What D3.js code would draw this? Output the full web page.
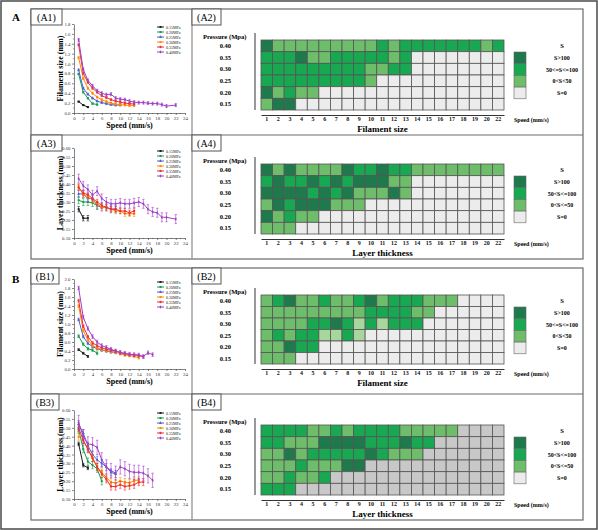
<!DOCTYPE html>
<html><head><meta charset="utf-8">
<script src="https://cdn.jsdelivr.net/npm/d3@7"></script>
<style>
body{margin:0;background:#fff}
svg{display:block}
text{font-family:"Liberation Serif","Times New Roman",serif}
</style>
</head><body>
<svg id="c" width="598" height="530"></svg>
<script>
// ---------- shared categories ----------
const pressureLabels = ["0.15MPa","0.20MPa","0.25MPa","0.30MPa","0.35MPa","0.40MPa"];
const seriesColors = ["#1a1a1a","#12a04a","#5060d0","#ff8a00","#ee3030","#a040c8"];
const speeds = [1,2,3,4,5,6,7,8,9,10,11,12,13,14,15,16,17,18,19,20,22];
const speedTickLabels = ["1","2","3","4","5","6","7","8","9","10","11","12","13","14","15","16","17","18","19","20","22"];
const xTicks = [0,2,4,6,8,10,12,14,16,18,20,22,24];
const heatRows = ["0.40","0.35","0.30","0.25","0.20","0.15"];
const legendA = ["S>100","50<=S<=100","0<S<50","S=0"];
const legendB = ["S>100","50<S<=100","0<S<=50","S=0"];

// ---------- A1: filament size vs speed (series 0.15 .. 0.40 MPa) ----------
const a1Values = [
  [0.23,0.16,0.12],
  [0.79,0.42,0.30,0.19,0.17],
  [0.87,0.50,0.38,0.30,0.24,0.21,0.19,0.17,0.16,0.16],
  [1.12,0.70,0.50,0.40,0.32,0.27,0.23,0.20,0.18,0.17,0.16,0.15,0.15],
  [1.38,0.80,0.62,0.50,0.42,0.35,0.31,0.27,0.24,0.22,0.20,0.19,0.18],
  [1.48,0.88,0.66,0.55,0.45,0.40,0.37,0.38,0.30,0.28,0.27,0.24,0.22,0.21,0.21,0.20,0.19,0.19,0.17,0.14,0.16]
];
const a1Err = [0.01,0.015,0.02,0.02,0.02,0.03];

// ---------- A3: layer thickness vs speed ----------
const a3Values = [
  [0.26,0.21,0.21],
  [0.31,0.30,0.30,0.295,0.28],
  [0.345,0.345,0.32,0.32,0.28,0.27,0.27,0.26,0.26],
  [0.385,0.34,0.33,0.31,0.29,0.27,0.27,0.26,0.25,0.25,0.235,0.235,0.235],
  [0.38,0.35,0.34,0.32,0.30,0.28,0.27,0.26,0.26,0.25,0.25,0.24,0.25],
  [0.43,0.39,0.37,0.34,0.36,0.32,0.30,0.29,0.29,0.295,0.29,0.29,0.295,0.30,0.29,0.26,0.245,0.24,0.215,0.215,0.205]
];
const a3Err = [0.015,0.02,0.02,0.015,0.015,0.025];

// ---------- B1: filament size vs speed ----------
const b1Values = [
  [0.43,0.35,0.28],
  [0.73,0.55,0.45,0.42,0.35],
  [1.10,0.72,0.57,0.50,0.45,0.42,0.40,0.38,0.37],
  [1.40,0.85,0.65,0.52,0.47,0.43,0.41,0.39,0.37,0.34,0.31,0.30,0.28,0.25],
  [1.52,0.95,0.72,0.58,0.52,0.47,0.44,0.42,0.40,0.36,0.34,0.32,0.31,0.30,0.27],
  [1.80,1.15,0.90,0.72,0.60,0.52,0.48,0.44,0.40,0.37,0.35,0.33,0.32,0.31,0.28,0.36,0.32]
];
const b1Err = [0.02,0.03,0.03,0.03,0.03,0.04];

// ---------- B3: layer thickness vs speed ----------
const b3Values = [
  [0.41,0.29,0.275],
  [0.49,0.38,0.31,0.29,0.27,0.20],
  [0.52,0.47,0.40,0.35,0.32,0.30,0.28,0.25,0.24],
  [0.45,0.43,0.38,0.33,0.28,0.25,0.22,0.195,0.19,0.20,0.195,0.19,0.205,0.205],
  [0.50,0.43,0.38,0.33,0.28,0.24,0.21,0.17,0.17,0.18,0.17,0.175,0.18,0.195,0.195],
  [0.53,0.45,0.41,0.405,0.39,0.32,0.28,0.26,0.245,0.28,0.27,0.255,0.25,0.25,0.245,0.23,0.205]
];
const b3Err = [0.01,0.02,0.02,0.02,0.02,0.04];

// ---------- heatmap levels: 0 S=0, 1 0<S<50, 2 50..100, 3 S>100, 4 pale ----------
const a2Grid = [
  [3,1,1,1,1,1,1,1,1,1,2,1,2,2,2,2,2,2,2,1,2],
  [2,2,2,3,1,1,2,2,2,2,2,1,2,0,0,0,0,0,0,0,0],
  [2,2,2,2,2,2,2,2,2,1,1,2,2,0,0,0,0,0,0,0,0],
  [2,2,2,2,2,2,2,2,2,1,0,0,0,0,0,0,0,0,0,0,0],
  [3,1,2,1,1,0,0,0,0,0,0,0,0,0,0,0,0,0,0,0,0],
  [1,3,3,0,0,0,0,0,0,0,0,0,0,0,0,0,0,0,0,0,0]
];
const a4Grid = [
  [3,1,3,1,1,1,1,3,2,2,3,2,2,1,1,1,1,1,1,1,1],
  [2,3,2,2,3,2,3,2,3,3,3,1,1,0,0,0,0,0,0,0,0],
  [3,3,3,3,2,3,2,3,1,1,1,3,1,0,0,0,0,0,0,0,0],
  [1,3,2,3,3,3,1,1,1,0,0,0,0,0,0,0,0,0,0,0,0],
  [3,1,2,1,1,0,0,0,0,0,0,0,0,0,0,0,0,0,0,0,0],
  [1,1,1,0,0,0,0,0,0,0,0,0,0,0,0,0,0,0,0,0,0]
];
const b2Grid = [
  [1,2,3,1,1,2,1,1,2,3,1,2,2,2,1,1,1,0,0,0,0],
  [1,1,1,1,1,1,1,1,1,2,2,2,2,1,1,0,0,0,0,0,0],
  [1,1,1,1,2,2,3,2,4,2,4,2,2,2,0,0,0,0,0,0,0],
  [1,2,1,2,2,4,4,2,4,0,0,0,0,0,0,0,0,0,0,0,0],
  [1,1,3,2,2,0,0,0,0,0,0,0,0,0,0,0,0,0,0,0,0],
  [1,1,1,0,0,0,0,0,0,0,0,0,0,0,0,0,0,0,0,0,0]
];
const b4Grid = [
  [2,2,2,2,1,1,2,1,2,2,2,2,1,1,1,1,1,0,0,0,0],
  [2,2,1,1,1,3,3,3,3,2,2,2,3,2,2,0,0,0,0,0,0],
  [1,1,3,1,2,2,2,2,2,3,2,1,1,1,0,0,0,0,0,0,0],
  [1,1,1,2,1,1,1,3,3,0,0,0,0,0,0,0,0,0,0,0,0],
  [1,1,2,1,1,2,0,0,0,0,0,0,0,0,0,0,0,0,0,0,0],
  [2,2,2,0,0,0,0,0,0,0,0,0,0,0,0,0,0,0,0,0,0]
];

const levelColors = ["#ececec","#6dbd6a","#18a852","#1e7a4c","#a9d69c"];

// ================= drawing =================
const svg = d3.select("#c");

// frames
const frame = svg.append("g").attr("fill","none");
frame.append("rect").attr("x",1).attr("y",1).attr("width",596).attr("height",528)
  .attr("stroke","#4a4a4a").attr("stroke-width",1.5);
function section(top, mid, bottom) {
  frame.append("rect").attr("x",31).attr("y",top).attr("width",552).attr("height",bottom-top)
    .attr("stroke","#6a6a6a").attr("stroke-width",1.2);
  frame.append("line").attr("x1",192).attr("x2",192).attr("y1",top).attr("y2",bottom)
    .attr("stroke","#8a8a8a").attr("stroke-width",1.2);
  frame.append("line").attr("x1",31).attr("x2",583).attr("y1",mid).attr("y2",mid)
    .attr("stroke","#6a6a6a").attr("stroke-width",1.2);
}
section(9,135,259);
section(268,394,520);
function tag(x, y, w, label) {
  svg.append("rect").attr("x",x).attr("y",y).attr("width",w).attr("height",16)
    .attr("fill","#fff").attr("stroke","#555").attr("stroke-width",1);
  svg.append("text").attr("x",x+w/2).attr("y",y+12).attr("text-anchor","middle")
    .attr("font-size",10).text(label);
}
tag(31,9,31,"(A1)"); tag(192,9,29,"(A2)"); tag(31,135,31,"(A3)"); tag(192,135,29,"(A4)");
tag(31,268,28,"(B1)"); tag(192,268,29,"(B2)"); tag(31,394,28,"(B3)"); tag(192,394,29,"(B4)");
svg.append("text").attr("x",12).attr("y",21).attr("font-size",11).attr("font-weight","bold").text("A");
svg.append("text").attr("x",12).attr("y",283).attr("font-size",11).attr("font-weight","bold").text("B");

const symbols = [d3.symbolSquare, d3.symbolSquare, d3.symbolTriangle, d3.symbolSquare, d3.symbolCircle, d3.symbolDiamond];

function lineChart(cfg) {
  const g = svg.append("g");
  const x = d3.scaleLinear().domain([0,24]).range([74,185]);
  const y = d3.scaleLinear().domain(cfg.domain).range([cfg.yBot, cfg.yTop]);
  const style = sel => {
    sel.selectAll("path,line").attr("stroke","#333").attr("stroke-width",0.6);
    sel.selectAll("text").attr("font-size",4.8).attr("fill","#333")
      .attr("font-family","'Liberation Serif',serif");
  };
  // minor ticks
  const yMinor = g.append("g");
  cfg.yMinor.forEach(v => yMinor.append("line").attr("x1",73).attr("x2",74)
    .attr("y1",y(v)).attr("y2",y(v)).attr("stroke","#333").attr("stroke-width",0.5));
  d3.range(1,24,2).forEach(v => yMinor.append("line").attr("x1",x(v)).attr("x2",x(v))
    .attr("y1",cfg.yBot).attr("y2",cfg.yBot+1).attr("stroke","#333").attr("stroke-width",0.5));
  g.append("g").attr("transform","translate(74,0)")
    .call(d3.axisLeft(y).tickValues(cfg.yTicks).tickSize(2).tickSizeOuter(0).tickPadding(1.5).tickFormat(d3.format(cfg.fmt)))
    .call(style);
  g.append("g").attr("transform",`translate(0,${cfg.yBot})`)
    .call(d3.axisBottom(x).tickValues(xTicks).tickSize(2).tickSizeOuter(0).tickPadding(1.5))
    .call(style);
  // titles
  g.append("text").attr("transform",`translate(63,${(cfg.yTop+cfg.yBot)/2}) rotate(-90)`)
    .attr("text-anchor","middle").attr("font-size",8).attr("font-weight","bold").text(cfg.yTitle);
  g.append("text").attr("x",129.5).attr("y",cfg.yBot+15).attr("text-anchor","middle")
    .attr("font-size",8).attr("font-weight","bold").text("Speed (mm/s)");
  // series
  const line = d3.line().x(d => x(d.s)).y(d => y(d.v));
  cfg.values.forEach((vals, i) => {
    const pts = vals.map((v, j) => ({s: speeds[j], v: v}));
    const col = seriesColors[i];
    const e = cfg.err[i];
    const eg = g.append("g").attr("stroke",col).attr("stroke-width",0.6);
    pts.forEach(p => {
      eg.append("line").attr("x1",x(p.s)).attr("x2",x(p.s)).attr("y1",y(p.v-e)).attr("y2",y(p.v+e));
      eg.append("line").attr("x1",x(p.s)-1.2).attr("x2",x(p.s)+1.2).attr("y1",y(p.v-e)).attr("y2",y(p.v-e));
      eg.append("line").attr("x1",x(p.s)-1.2).attr("x2",x(p.s)+1.2).attr("y1",y(p.v+e)).attr("y2",y(p.v+e));
    });
    g.append("path").datum(pts).attr("d",line).attr("fill","none").attr("stroke",col).attr("stroke-width",1);
    g.selectAll(null).data(pts).join("path")
      .attr("transform",d => `translate(${x(d.s)},${y(d.v)})`)
      .attr("d",d3.symbol().type(symbols[i]).size(4)).attr("fill",col);
    // legend
    const ly = cfg.yTop + 3 + i*5;
    g.append("line").attr("x1",157).attr("x2",164).attr("y1",ly).attr("y2",ly).attr("stroke",col).attr("stroke-width",1);
    g.append("path").attr("transform",`translate(160.5,${ly})`).attr("d",d3.symbol().type(symbols[i]).size(4)).attr("fill",col);
    g.append("text").attr("x",166).attr("y",ly+1.5).attr("font-size",4).attr("fill","#222").text(pressureLabels[i]);
  });
}

lineChart({yTop:24, yBot:113, domain:[0,1.8], yTicks:d3.range(0,1.81,0.2), yMinor:d3.range(0.1,1.8,0.2), fmt:".1f",
  yTitle:"Filament size (mm)", values:a1Values, err:a1Err});
lineChart({yTop:148, yBot:238, domain:[0.10,0.60], yTicks:d3.range(0.10,0.601,0.05), yMinor:[], fmt:".2f",
  yTitle:"Layer thickness (mm)", values:a3Values, err:a3Err});
lineChart({yTop:279, yBot:369, domain:[0,2.0], yTicks:d3.range(0,2.01,0.2), yMinor:d3.range(0.1,2.0,0.2), fmt:".1f",
  yTitle:"Filament size (mm)", values:b1Values, err:b1Err});
lineChart({yTop:410, yBot:499, domain:[0.10,0.60], yTicks:d3.range(0.10,0.601,0.05), yMinor:[], fmt:".2f",
  yTitle:"Layer thickness (mm)", values:b3Values, err:b3Err});

function heatmap(cfg) {
  const g = svg.append("g");
  const left = 261, right = 504;
  const x = d3.scaleBand().domain(speedTickLabels).range([left,right]);
  const y = d3.scaleBand().domain(heatRows).range([cfg.top, cfg.bottom]);
  const colors = levelColors.slice();
  if (cfg.emptyColor) colors[0] = cfg.emptyColor;
  cfg.grid.forEach((row, r) => {
    row.forEach((lv, c) => {
      g.append("rect").attr("x",x(speedTickLabels[c])).attr("y",y(heatRows[r]))
        .attr("width",x.bandwidth()).attr("height",y.bandwidth())
        .attr("fill",colors[lv]).attr("stroke","#555").attr("stroke-width",0.8);
    });
  });
  // y axis line + labels
  g.append("line").attr("x1",left-6).attr("x2",left-6).attr("y1",cfg.top-7).attr("y2",cfg.bottom)
    .attr("stroke","#333").attr("stroke-width",1);
  heatRows.forEach(r => g.append("text").attr("x",231).attr("y",y(r)+y.bandwidth()/2+2.3)
    .attr("text-anchor","end").attr("font-size",6.5).attr("font-weight","bold").text(r));
  g.append("text").attr("x",203).attr("y",cfg.top-1).attr("font-size",6.6).attr("font-weight","bold").text("Pressure (Mpa)");
  // x axis
  const ax = g.append("g").attr("transform",`translate(0,${cfg.bottom+5})`)
    .call(d3.axisBottom(x).tickSize(0).tickSizeOuter(0).tickPadding(2));
  ax.select(".domain").attr("stroke","#333").attr("stroke-width",1.2);
  ax.selectAll("text").attr("font-size",6).attr("font-weight","bold").attr("fill","#111")
    .attr("font-family","'Liberation Serif',serif");
  g.append("text").attr("x",(left+right)/2).attr("y",cfg.bottom+22).attr("text-anchor","middle")
    .attr("font-size",9).attr("font-weight","bold").text(cfg.title);
  g.append("text").attr("x",514).attr("y",cfg.bottom+11.5).attr("font-size",6).attr("font-weight","bold").text("Speed (mm/s)");
  // legend
  g.append("text").attr("x",562).attr("y",cfg.top+8).attr("text-anchor","middle")
    .attr("font-size",6.5).attr("font-weight","bold").text("S");
  const legLevels = [3,2,1,0];
  legLevels.forEach((lv, i) => {
    const yy = cfg.top + 12 + i*11.7;
    g.append("rect").attr("x",right+10).attr("y",yy).attr("width",12).attr("height",11.7)
      .attr("fill",levelColors[lv]).attr("stroke","#666").attr("stroke-width",0.6);
    g.append("text").attr("x",562).attr("y",yy+8).attr("text-anchor","middle")
      .attr("font-size",6).attr("font-weight","bold").text(cfg.legend[i]);
  });
}

heatmap({top:40, bottom:110, grid:a2Grid, title:"Filament size", legend:legendA});
heatmap({top:164, bottom:234, grid:a4Grid, title:"Layer thickness", legend:legendB});
heatmap({top:295, bottom:364, grid:b2Grid, title:"Filament size", legend:legendA});
heatmap({top:425, bottom:495, grid:b4Grid, title:"Layer thickness", legend:legendB, emptyColor:"#c8c8c8"});
</script>
</body></html>
